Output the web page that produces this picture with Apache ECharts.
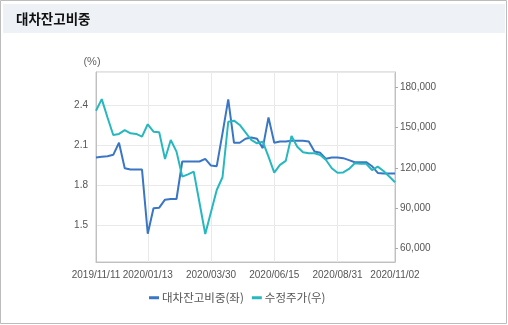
<!DOCTYPE html>
<html>
<head>
<meta charset="utf-8">
<script src="https://cdn.jsdelivr.net/npm/echarts@6/dist/echarts.min.js"></script>
<style>
  html, body { margin: 0; padding: 0; background: #fff; }
  #chart { width: 508px; height: 325px; }
</style>
</head>
<body>
<div id="chart"></div>
<script>
// Weekly dates on the category axis
const dates = [
  '2019/11/11','2019/11/18','2019/11/25','2019/12/02','2019/12/09','2019/12/16','2019/12/23','2019/12/30',
  '2020/01/06','2020/01/13','2020/01/20','2020/01/27','2020/02/03','2020/02/10','2020/02/17','2020/02/24',
  '2020/03/02','2020/03/09','2020/03/16','2020/03/23','2020/03/30','2020/04/06','2020/04/13','2020/04/20',
  '2020/04/27','2020/05/04','2020/05/11','2020/05/18','2020/05/25','2020/06/01','2020/06/08','2020/06/15',
  '2020/06/22','2020/06/29','2020/07/06','2020/07/13','2020/07/20','2020/07/27','2020/08/03','2020/08/10',
  '2020/08/17','2020/08/24','2020/08/31','2020/09/07','2020/09/14','2020/09/21','2020/09/28','2020/10/05',
  '2020/10/12','2020/10/19','2020/10/26','2020/10/30','2020/11/02'
];

// Dates that carry a label on the x axis
const labelDates = ['2019/11/11','2020/01/13','2020/03/30','2020/06/15','2020/08/31','2020/11/02'];

// Share of loaned balance (%), left axis
const loanRatio = [
  2.01, 2.015, 2.02, 2.03, 2.12, 1.93, 1.92, 1.92, 1.92, 1.44, 1.63, 1.635, 1.695, 1.70, 1.70, 1.98,
  1.98, 1.98, 1.98, 2.00, 1.95, 1.945, 2.19, 2.445, 2.12, 2.12, 2.15, 2.16, 2.15, 2.08, 2.31, 2.12,
  2.13, 2.13, 2.135, 2.135, 2.135, 2.13, 2.055, 2.045, 2.00, 2.01, 2.01, 2.005, 1.99, 1.975, 1.975, 1.975,
  1.945, 1.895, 1.89, 1.89, 1.89
];

// Adjusted share price (KRW), right axis
const adjPrice = [
  162600, 171300, 157600, 144500, 145300, 148200, 145800, 145300, 143300, 152500, 147000, 146500, 126600, 140800, 132100, 113500,
  115200, 117200, 94000, 70700, 87000, 103500, 113000, 154400, 155200, 152000, 146500, 140800, 138300, 139500, 128400, 116400,
  122200, 125200, 143800, 135800, 131600, 130900, 130900, 129600, 125900, 119700, 116400, 116600, 119200, 123400, 123000, 123000,
  118400, 120900, 117700, 113500, 109300
];

const seriesNames = ['대차잔고비중(좌)', '수정주가(우)'];
const titleText = '대차잔고비중';

const numFont = "'Liberation Sans', Arial, sans-serif";
const krFont = "'Noto Sans CJK KR', sans-serif";
const showIdx = (idx) => labelDates.indexOf(dates[idx]) >= 0;

const chart = echarts.init(document.getElementById('chart'), null, { renderer: 'canvas' });
chart.setOption({
  animation: false,
  backgroundColor: '#fff',
  graphic: [
    { type: 'rect', shape: { x: 0.5, y: 0.5, width: 506, height: 323 },
      style: { fill: 'none', stroke: '#bcbcbc', lineWidth: 1 }, z: -10 },
    { type: 'rect', shape: { x: 3, y: 4, width: 502, height: 29 },
      style: { fill: '#eef2f6' }, z: -9 },
    { type: 'text', x: 16, y: 19,
      style: { text: titleText, fill: '#111', font: "bold 13.5px 'Noto Sans CJK KR', sans-serif",
               verticalAlign: 'middle', align: 'left' } }
  ],
  grid: {
    left: 96, right: 113, top: 72, bottom: 63,
    show: true, borderColor: '#c6c6c6', borderWidth: 1, backgroundColor: 'transparent'
  },
  legend: {
    left: 144, top: 287,
    itemWidth: 10, itemHeight: 3, itemGap: 8,
    icon: 'rect',
    textStyle: { color: '#555', fontSize: 11.5, fontFamily: krFont, padding: [0, 0, 0, -2] },
    data: seriesNames
  },
  xAxis: {
    type: 'category',
    data: dates,
    boundaryGap: false,
    axisLine: { lineStyle: { color: '#c0c0c0', width: 1 } },
    axisTick: { show: false },
    axisLabel: {
      interval: (idx) => showIdx(idx),
      showMinLabel: true, showMaxLabel: true, hideOverlap: false,
      color: '#555', fontSize: 10, fontFamily: numFont, margin: 8
    },
    splitLine: {
      show: true,
      interval: (idx) => showIdx(idx),
      lineStyle: { color: '#e9e9e9', width: 1 }
    }
  },
  yAxis: [
    {
      type: 'value',
      min: 1.229, max: 2.649, splitNumber: 5,
      name: '(%)',
      nameLocation: 'end',
      nameGap: 5,
      nameTextStyle: { color: '#666', fontSize: 11, fontFamily: numFont, align: 'center', padding: [0, 8, 0, 0] },
      axisLine: { show: true, lineStyle: { color: '#c0c0c0' } },
      axisTick: { show: false },
      axisLabel: {
        showMinLabel: false, showMaxLabel: false,
        formatter: (v) => v.toFixed(1),
        color: '#555', fontSize: 10, fontFamily: numFont, margin: 8
      },
      splitLine: { show: true, lineStyle: { color: '#e9e9e9' } }
    },
    {
      type: 'value',
      position: 'right',
      min: 49800, max: 191500, splitNumber: 5,
      axisLine: { show: true, lineStyle: { color: '#c0c0c0' } },
      axisTick: { show: true, length: 3, lineStyle: { color: '#aaa' } },
      axisLabel: {
        showMinLabel: false, showMaxLabel: false,
        formatter: (v) => v.toLocaleString('en-US'),
        color: '#555', fontSize: 10, fontFamily: numFont, margin: 5
      },
      splitLine: { show: false }
    }
  ],
  series: [
    {
      name: seriesNames[0], type: 'line', yAxisIndex: 0, data: loanRatio,
      symbol: 'none', color: '#3a76c4',
      lineStyle: { width: 2, color: '#3a76c4' }
    },
    {
      name: seriesNames[1], type: 'line', yAxisIndex: 1, data: adjPrice,
      symbol: 'none', color: '#26b8be',
      lineStyle: { width: 2, color: '#26b8be' }
    }
  ]
});
</script>
</body>
</html>
